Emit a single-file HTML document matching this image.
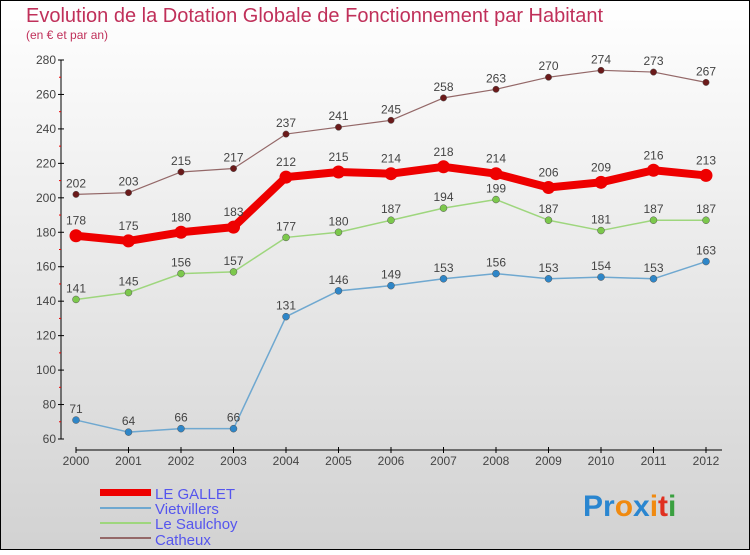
<!DOCTYPE html>
<html><head><meta charset="utf-8"><style>
body{margin:0}
#c{width:750px;height:550px;position:relative;font-family:"Liberation Sans",sans-serif}
</style></head><body>
<div id="c">
<svg id="s" width="750" height="550" xmlns="http://www.w3.org/2000/svg">
<defs><linearGradient id="bg" x1="0" y1="0" x2="0" y2="1"><stop offset="0" stop-color="#ffffff"/><stop offset="1" stop-color="#d2d2d2"/></linearGradient></defs>
<rect x="0.5" y="0.5" width="749" height="549" fill="url(#bg)" stroke="#000"/>
<text x="26" y="22" font-size="20" fill="#c0305a">Evolution de la Dotation Globale de Fonctionnement par Habitant</text>
<text x="26" y="39" font-size="12" fill="#c0305a">(en € et par an)</text>
<g id="axes"></g><g id="series"></g>
<g>
<rect x="100" y="489" width="51" height="7" fill="#ee0000"/>
<text x="155" y="499" font-size="15" fill="#5555ee">LE GALLET</text>
<rect x="100" y="507" width="51" height="2" fill="#6fa8d0"/>
<text x="155" y="514" font-size="15" fill="#5555ee">Vietvillers</text>
<rect x="100" y="522" width="51" height="2" fill="#9ed67d"/>
<text x="155" y="529" font-size="15" fill="#5555ee">Le Saulchoy</text>
<rect x="100" y="537" width="51" height="2" fill="#946868"/>
<text x="155" y="545" font-size="15" fill="#5555ee">Catheux</text>
</g>
<text x="583" y="516" font-size="30" font-weight="bold"><tspan fill="#2a86d0">Pr</tspan><tspan fill="#f08a10">o</tspan><tspan fill="#2a86d0">x</tspan><tspan fill="#f08a10">i</tspan><tspan fill="#e03020">t</tspan><tspan fill="#3aa040">i</tspan></text>
</svg></div>
<script>
const years=["2000","2001","2002","2003","2004","2005","2006","2007","2008","2009","2010","2011","2012"];
const yTicks=[60,80,100,120,140,160,180,200,220,240,260,280];
const catheux=[202,203,215,217,237,241,245,258,263,270,274,273,267];
const legallet=[178,175,180,183,212,215,214,218,214,206,209,216,213];
const saulchoy=[141,145,156,157,177,180,187,194,199,187,181,187,187];
const vietvillers=[71,64,66,66,131,146,149,153,156,153,154,153,163];
const NS="http://www.w3.org/2000/svg";
const X=i=>76+i*52.5, Y=v=>439-(v-60)*(379/220);
function mk(p,t,a){const e=document.createElementNS(NS,t);for(const k in a)e.setAttribute(k,a[k]);p.appendChild(e);return e;}
const ax=document.getElementById('axes');
mk(ax,'line',{x1:61,y1:60,x2:61,y2:439,stroke:'#000','stroke-width':1});
mk(ax,'line',{x1:76,y1:450,x2:722,y2:450,stroke:'#000','stroke-width':1});
yTicks.forEach((v,i)=>{
 const l=mk(ax,'line',{x1:58,y1:Y(v),x2:64,y2:Y(v),stroke:'#000'});
 
 
 const t=mk(ax,'text',{x:56,y:Y(v)+4,'font-size':12,'text-anchor':'end',fill:'#444'});
 t.textContent=v;
 
 
 if(i<yTicks.length-1){const m=mk(ax,'line',{x1:59,y1:Y(v+10),x2:61,y2:Y(v+10),stroke:'#e00'});
 
 }
});
years.forEach((y,i)=>{
 const l=mk(ax,'line',{x1:X(i),y1:447,x2:X(i),y2:453,stroke:'#000'});
 
 
 const t=mk(ax,'text',{x:X(i),y:465,'font-size':12,'text-anchor':'middle',fill:'#444'});
 t.textContent=y;
 
 
});
const sg=document.getElementById('series');
function series(data,name,color,w,r,dot,labOff){
 const g=mk(sg,'g',{});
 
 
 const pl=mk(g,'polyline',{points:data.map((v,i)=>X(i)+','+Y(v)).join(' '),fill:'none',stroke:color,'stroke-width':w,'stroke-linejoin':'round'});
 
 
 data.forEach((v,i)=>{
  const c=mk(g,'circle',{cx:X(i),cy:Y(v),r:r,fill:dot,stroke:w>3?'none':'#555','stroke-width':0.5});
  
  
  const t=mk(g,'text',{x:X(i),y:Y(v)-labOff,'font-size':12,'text-anchor':'middle',fill:'#444'});
  t.textContent=v;
  
  
 });
}
series(catheux,'catheux','#946868',1.2,3.2,'#6b1a1a',7);
series(vietvillers,'vietvillers','#6fa8d0',1.5,3.5,'#2e86c8',7);
series(saulchoy,'le-saulchoy','#9ed67d',1.5,3.5,'#7cc84c',7);
series(legallet,'le-gallet','#ee0000',8,6.5,'#ee0000',11);
</script>
</body></html>
